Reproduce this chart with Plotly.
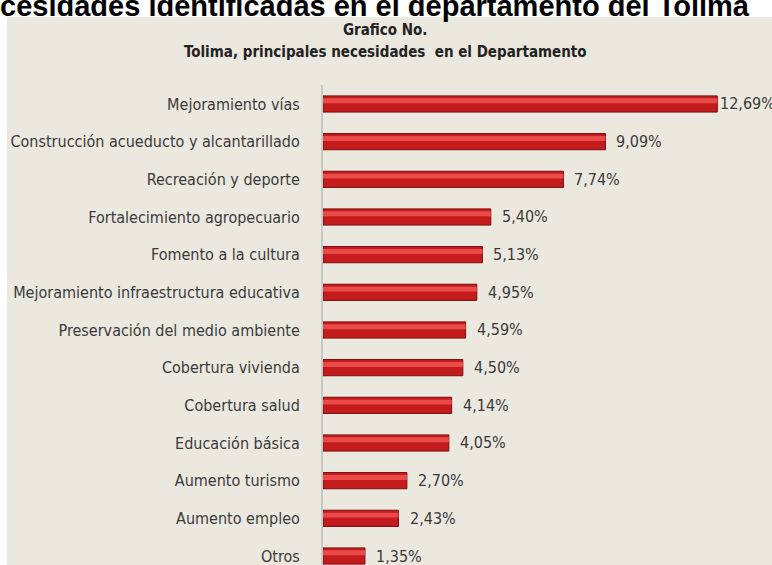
import plotly.graph_objects as go

categories = [
    "Mejoramiento vías",
    "Construcción acueducto y alcantarillado",
    "Recreación y deporte",
    "Fortalecimiento agropecuario",
    "Fomento a la cultura",
    "Mejoramiento infraestructura educativa",
    "Preservación del medio ambiente",
    "Cobertura vivienda",
    "Cobertura salud",
    "Educación básica",
    "Aumento turismo",
    "Aumento empleo",
    "Otros",
]
values = [12.69, 9.09, 7.74, 5.40, 5.13, 4.95, 4.59, 4.50, 4.14, 4.05, 2.70, 2.43, 1.35]
value_labels = [f"{v:.2f}".replace(".", ",") + "%" for v in values]

W, H = 772, 565
L, R, T, B = 323, 772 - 758, 85, 0
plot_w = W - L - R
plot_h = H - T - B
BG = "#ebe8df"
NARROW = "DejaVu Sans Condensed, DejaVu Sans, sans-serif"

cats_bottom_up = categories[::-1]


def px(p):
    return (p - L) / plot_w


def py(p):
    return (H - B - p) / plot_h


fig = go.Figure()
# cylinder body
fig.add_trace(go.Bar(
    y=categories, x=values, orientation="h", width=0.43,
    marker=dict(color="#c41c1c", line=dict(color="#7a0c0c", width=1)),
    hoverinfo="skip", showlegend=False,
))
# lighter upper band (highlight)
fig.add_trace(go.Bar(
    y=categories, x=values, orientation="h", width=0.13, offset=0.02,
    marker=dict(color="#ea4a4a", line=dict(width=0)),
    hoverinfo="skip", showlegend=False,
))
# value labels
for c, v, t in zip(categories, values, value_labels):
    fig.add_annotation(
        x=v, y=c, xref="x", yref="y", text=t, showarrow=False,
        xanchor="left", xshift=9 if v < 12 else 1,
        font=dict(family=NARROW, size=16, color="#3a3a3a"),
    )

# white strips around the beige panel
fig.add_shape(type="rect", xref="paper", yref="paper",
              x0=px(-20), x1=px(800), y0=py(17), y1=py(-20),
              fillcolor="white", line=dict(width=0), layer="below")
fig.add_shape(type="rect", xref="paper", yref="paper",
              x0=px(-20), x1=px(7), y0=py(600), y1=py(-20),
              fillcolor="white", line=dict(width=0), layer="below")

# cut-off heading at very top
fig.add_annotation(
    xref="paper", yref="paper", x=px(752), y=py(6),
    text="<b>Necesidades identificadas en el departamento del Tolima</b>",
    showarrow=False, xanchor="right", yanchor="middle",
    font=dict(family="Liberation Sans, Arial, sans-serif", size=29, color="black"),
)
# chart title
fig.add_annotation(
    xref="paper", yref="paper", x=px(385), y=py(30),
    text="<b>Grafico No.</b>", showarrow=False, xanchor="center", yanchor="middle",
    font=dict(family=NARROW, size=15, color="#222222"),
)
fig.add_annotation(
    xref="paper", yref="paper", x=px(385), y=py(52),
    text="<b>Tolima, principales necesidades  en el Departamento</b>", showarrow=False,
    xanchor="center", yanchor="middle",
    font=dict(family=NARROW, size=15, color="#222222"),
)

fig.update_layout(
    width=W, height=H,
    margin=dict(l=L, r=R, t=T, b=B, pad=0),
    paper_bgcolor=BG, plot_bgcolor=BG,
    barmode="overlay",
    font=dict(family=NARROW, color="#3a3a3a"),
    xaxis=dict(range=[0, 14], visible=False, fixedrange=True),
    yaxis=dict(
        type="category", categoryorder="array", categoryarray=cats_bottom_up,
        range=[-0.239, 12.504], showgrid=False, zeroline=False, automargin=False,
        showline=True, linecolor="#c9c9c4", linewidth=2, fixedrange=True,
        ticks="outside", ticklen=18, tickcolor="rgba(0,0,0,0)",
        tickfont=dict(family=NARROW, size=16, color="#3a3a3a"),
    ),
)

fig.write_html(
    "out.html",
    config={"displayModeBar": False},
    post_script="document.body.style.margin='0';document.body.style.overflow='hidden';",
)
